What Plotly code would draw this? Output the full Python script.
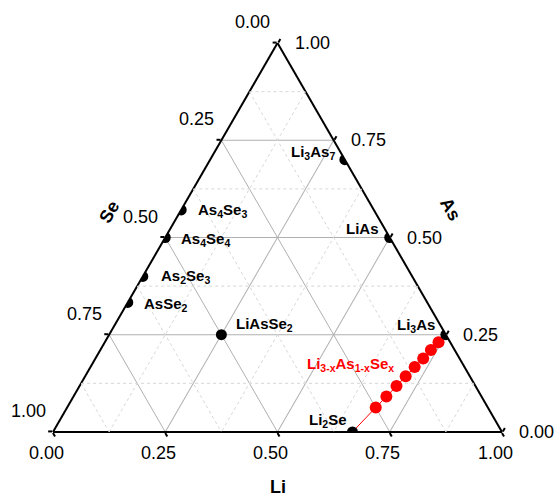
import plotly.graph_objects as go

# ---------------- data ----------------
# compounds (fractions Li, As, Se)
names = ["Li<sub>3</sub>As<sub>7</sub>", "LiAs", "Li<sub>3</sub>As", "Li<sub>2</sub>Se",
         "LiAsSe<sub>2</sub>", "As<sub>4</sub>Se<sub>3</sub>", "As<sub>4</sub>Se<sub>4</sub>",
         "As<sub>2</sub>Se<sub>3</sub>", "AsSe<sub>2</sub>"]
li_frac = [0.30, 0.50, 0.75, 0.667, 0.25, 0.0, 0.0, 0.0, 0.0]
as_frac = [0.70, 0.50, 0.25, 0.0, 0.25, 0.571, 0.50, 0.40, 0.333]
se_frac = [0.0, 0.0, 0.0, 0.333, 0.50, 0.429, 0.50, 0.60, 0.667]

# Li3-xAs1-xSex series (red)
red_li = [0.744, 0.737, 0.730, 0.722, 0.714, 0.706, 0.697, 0.688]
red_as = [0.231, 0.211, 0.189, 0.167, 0.143, 0.118, 0.091, 0.063]
red_se = [0.026, 0.053, 0.081, 0.111, 0.143, 0.176, 0.212, 0.250]
red_name = "Li<sub>3-x</sub>As<sub>1-x</sub>Se<sub>x</sub>"

major_ticks = [0.0, 0.25, 0.5, 0.75, 1.0]
minor_ticks = [0.125, 0.375, 0.625, 0.875]

# ---------------- styles ----------------
# label placement per compound: (xanchor, xshift px, yshift px)
label_place = [("right", -8, 7), ("right", -9, 9), ("right", -9, 9), ("right", -3, 12),
               ("left", 13, 10), ("left", 15, -1), ("left", 14, -2), ("left", 16, 0),
               ("left", 14, -2)]
FONT = "Arial, 'Liberation Sans', sans-serif"


def to_paper(li, a, s):
    tot = li + a + s
    li, a = li / tot, a / tot
    return li + a / 2.0, a


fig = go.Figure()

# minor dotted grid (a = As const, b = Se const, c = Li const)
for axis in ("a", "b", "c"):
    A, B, C = [], [], []
    for v in minor_ticks:
        if axis == "a":
            pts = [(v, 1 - v, 0), (v, 0, 1 - v)]
        elif axis == "b":
            pts = [(1 - v, v, 0), (0, v, 1 - v)]
        else:
            pts = [(1 - v, 0, v), (0, 1 - v, v)]
        for p in pts:
            A.append(p[0]); B.append(p[1]); C.append(p[2])
        A.append(None); B.append(None); C.append(None)
    fig.add_trace(go.Scatterternary(a=A, b=B, c=C, mode="lines", hoverinfo="skip",
                                    line=dict(color="#d6d6d6", width=1, dash="dot"),
                                    showlegend=False, connectgaps=False))

# red connecting line from Li2Se through the series
fig.add_trace(go.Scatterternary(a=[as_frac[3]] + red_as[::-1], b=[se_frac[3]] + red_se[::-1],
                                c=[li_frac[3]] + red_li[::-1], mode="lines",
                                line=dict(color="#ff0000", width=1), showlegend=False))
# red points
fig.add_trace(go.Scatterternary(a=red_as, b=red_se, c=red_li, mode="markers",
                                marker=dict(color="#ff0000", size=12), showlegend=False))
# black points
fig.add_trace(go.Scatterternary(a=as_frac, b=se_frac, c=li_frac, mode="markers",
                                marker=dict(color="black", size=11), showlegend=False))

axis_common = dict(tickmode="array", tickvals=major_ticks, showticklabels=False,
                   ticks="outside", ticklen=4, tickwidth=1.5, tickcolor="black",
                   linecolor="black", linewidth=2, showline=True,
                   showgrid=True, gridcolor="#b0b0b0", gridwidth=1, layer="below traces",
                   title=dict(text=""))

fig.update_layout(
    width=554, height=496,
    margin=dict(l=53, r=52, t=43, b=64),
    paper_bgcolor="white",
    showlegend=False,
    ternary=dict(sum=1, bgcolor="white",
                 aaxis=axis_common, baxis=axis_common, caxis=axis_common),
    font=dict(family=FONT, color="black"),
)

ann = []
# tick labels
for v in major_ticks:
    txt = f"{v:.2f}"
    # bottom: Li
    ann.append(dict(x=v, y=0, text=txt, xanchor="center", yanchor="middle",
                    xshift=-7, yshift=-21))
    # left: Se  (edge point with Li = 0)
    ann.append(dict(x=(1 - v) / 2, y=1 - v, text=txt, xanchor="center", yanchor="middle",
                    xshift=-25, yshift=21))
    # right: As (edge point with Se = 0)
    ann.append(dict(x=1 - v / 2, y=v, text=txt, xanchor="left", yanchor="middle",
                    xshift=15, yshift=0))
for a in ann:
    a.update(xref="paper", yref="paper", showarrow=False, font=dict(size=18, family=FONT))

# axis titles
titles = [
    dict(x=0.5, y=0, text="<b>Li</b>", xshift=0, yshift=-55, textangle=0),
    dict(x=(1 - 0.434) / 2, y=1 - 0.434, text="<b>Se</b>", xshift=-71, yshift=0, textangle=-60),
    dict(x=1 - 0.573 / 2, y=0.573, text="<b>As</b>", xshift=77, yshift=0, textangle=60),
]
for t in titles:
    t.update(xref="paper", yref="paper", showarrow=False, xanchor="center", yanchor="middle",
             font=dict(size=18, family=FONT))
    ann.append(t)

# compound labels
for n, l, a_, s, (xa, dx, dy) in zip(names, li_frac, as_frac, se_frac, label_place):
    px, py = to_paper(l, a_, s)
    ann.append(dict(x=px, y=py, xref="paper", yref="paper", text=f"<b>{n}</b>",
                    showarrow=False, xanchor=xa, yanchor="middle", xshift=dx, yshift=dy,
                    font=dict(size=15, family=FONT, color="black")))

# red series label
px, py = to_paper(red_li[3], red_as[3], red_se[3])
ann.append(dict(x=px, y=py, xref="paper", yref="paper", text=f"<b>{red_name}</b>",
                showarrow=False, xanchor="right", yanchor="middle", xshift=-19, yshift=3,
                font=dict(size=15, family=FONT, color="#ff0000")))

fig.update_layout(annotations=ann)
fig.write_html("out.html", config={"displayModeBar": False},
               post_script="document.body.style.margin='0';")
